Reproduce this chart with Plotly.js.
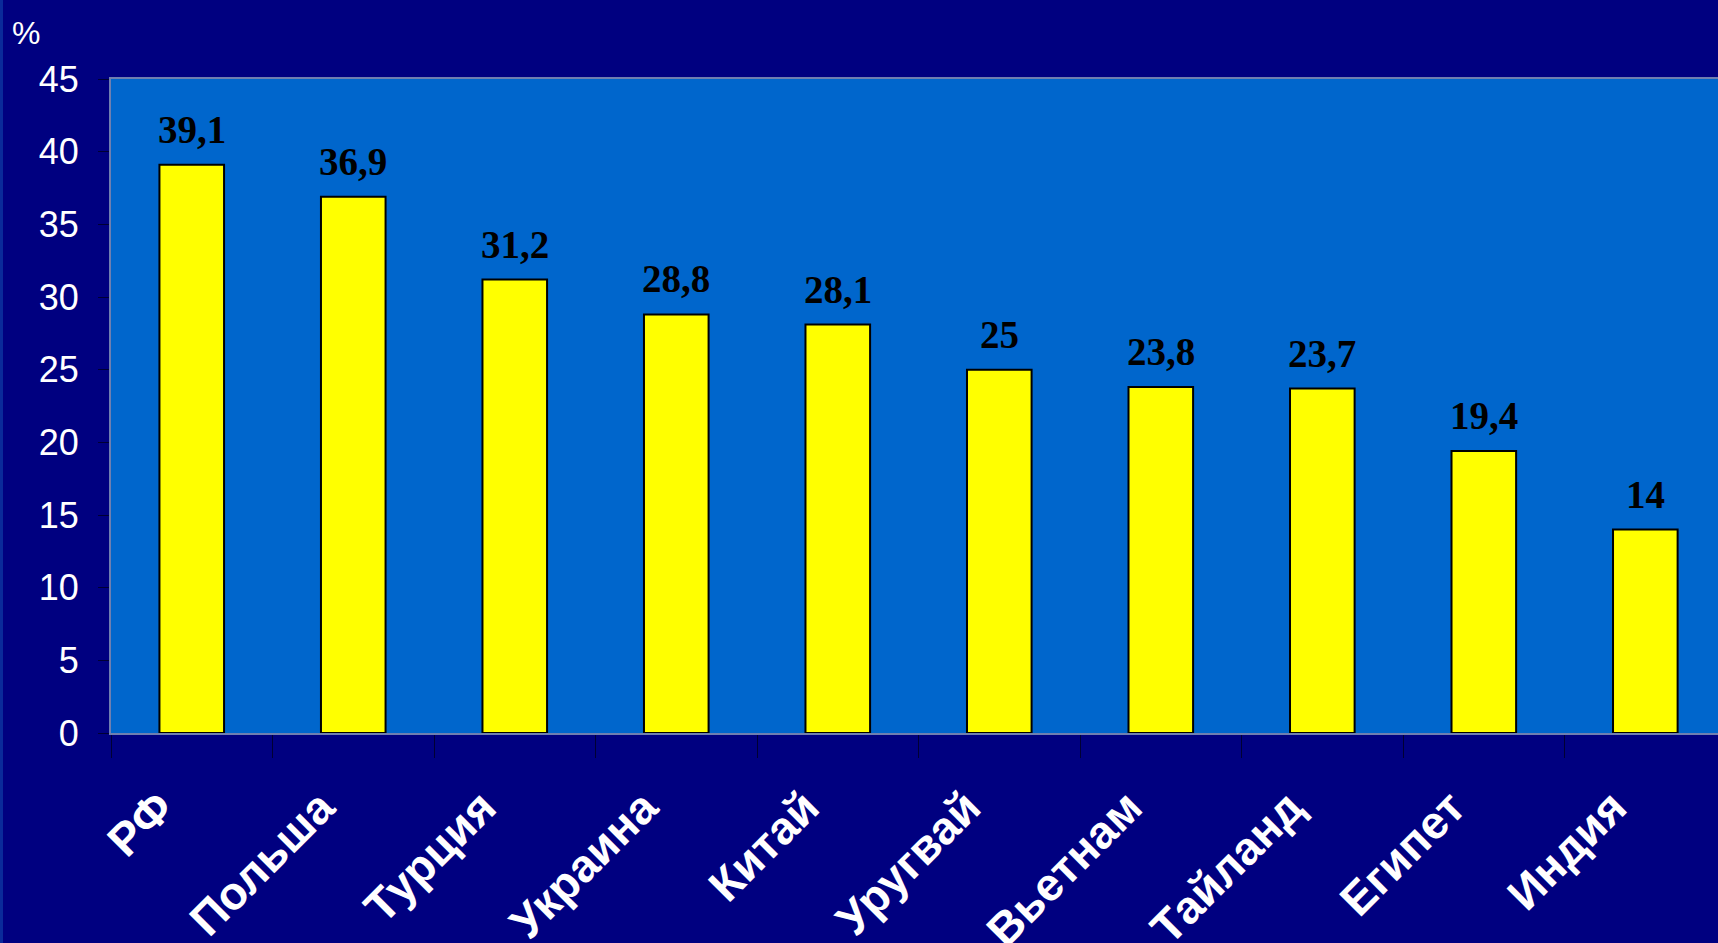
<!DOCTYPE html>
<html>
<head>
<meta charset="utf-8">
<script src="https://cdn.plot.ly/plotly-3.0.1.min.js"></script>
<style>
html,body{margin:0;padding:0;background:#000080;}
#chart{width:1718px;height:943px;}
</style>
</head>
<body>
<div id="chart"></div>
<script>
const categories = ['РФ','Польша','Турция','Украина','Китай','Уругвай','Вьетнам','Тайланд','Египет','Индия'];
const values = [39.1, 36.9, 31.2, 28.8, 28.1, 25, 23.8, 23.7, 19.4, 14];
const yTicks = [0,5,10,15,20,25,30,35,40,45];
const unitLabel = '%';

const fmt = v => String(v).replace('.', ',');
const idx = categories.map((c, i) => i);

const bars = {
  type: 'bar',
  x: categories,
  y: values,
  marker: {color: '#FFFF00', line: {color: '#000000', width: 2}},
  hoverinfo: 'none'
};
// empty helper trace so the label axis is drawn
const labelAxisTrace = {type: 'scatter', x: [], y: [], xaxis: 'x2', yaxis: 'y', hoverinfo: 'none'};

const annotations = categories.map((c, i) => ({
  x: c, y: values[i], xref: 'x', yref: 'y',
  text: '<b>' + fmt(values[i]) + '</b>',
  showarrow: false, yanchor: 'bottom', yshift: 12,
  font: {family: 'Liberation Serif, Times New Roman, serif', size: 39, color: '#000000'}
}));
annotations.push({
  xref: 'paper', yref: 'paper', x: -0.053, y: 1.07, xanchor: 'center', yanchor: 'middle',
  text: unitLabel, showarrow: false,
  font: {family: 'Liberation Sans, Arial, sans-serif', size: 32, color: '#FFFFFF'}
});

const xr = [-0.5, 9.45];
const labelShift = 0.2;
const marginL = 111;
const plotW = 1718 - marginL;

const layout = {
  width: 1718, height: 943,
  paper_bgcolor: '#000080',
  plot_bgcolor: '#0066CC',
  margin: {l: marginL, r: 0, t: 79, b: 210},
  bargap: 0.6,
  showlegend: false,
  xaxis: {
    type: 'category',
    range: xr,
    tickson: 'boundaries',
    ticks: 'outside', ticklen: 23, tickwidth: 1, tickcolor: '#000033',
    showticklabels: false,
    showline: true, linecolor: '#6f7fb0', linewidth: 2, mirror: true,
    showgrid: false, zeroline: false, fixedrange: true
  },
  xaxis2: {
    overlaying: 'x', anchor: 'y', side: 'bottom',
    type: 'linear',
    range: [xr[0] + labelShift, xr[1] + labelShift],
    tickvals: idx, ticktext: categories,
    ticks: '', tickangle: -45,
    ticklabelstandoff: 37,
    tickfont: {family: 'Liberation Sans, Arial, sans-serif', size: 46, color: '#FFFFFF', weight: 'bold'},
    showline: false, showgrid: false, zeroline: false, fixedrange: true
  },
  yaxis: {
    range: [0, 45],
    tickvals: yTicks,
    ticktext: yTicks.map(String),
    ticks: 'outside', ticklen: 11, tickwidth: 1, tickcolor: '#000033',
    ticklabelstandoff: 12,
    tickfont: {family: 'Liberation Sans, Arial, sans-serif', size: 36, color: '#FFFFFF'},
    showline: true, linecolor: '#6f7fb0', linewidth: 2, mirror: true,
    showgrid: false, zeroline: false, fixedrange: true
  },
  shapes: [{
    type: 'rect', xref: 'paper', yref: 'paper', layer: 'below',
    x0: -marginL / plotW, x1: (3 - marginL) / plotW, y0: -1, y1: 2,
    fillcolor: '#0a2a9a', line: {width: 0}
  }],
  annotations: annotations
};

Plotly.newPlot('chart', [bars, labelAxisTrace], layout, {displayModeBar: false, staticPlot: true});
</script>
</body>
</html>
